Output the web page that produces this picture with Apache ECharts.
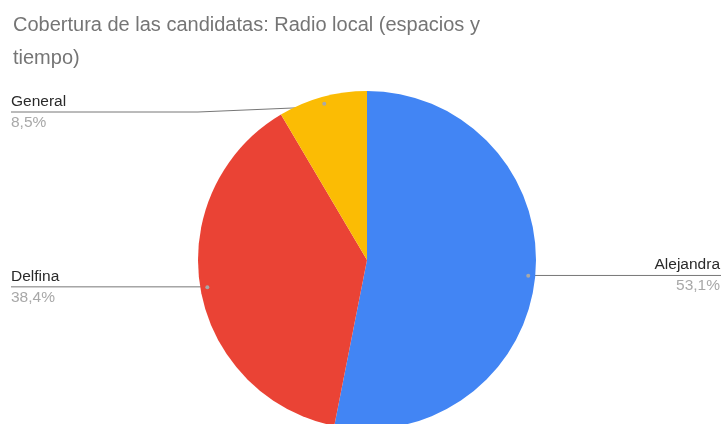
<!DOCTYPE html>
<html>
<head>
<meta charset="utf-8">
<style>
  html, body { margin: 0; padding: 0; background: #fff; }
  #chart { width: 721px; height: 424px; }
</style>
<script src="https://cdn.jsdelivr.net/npm/echarts@6/dist/echarts.min.js"></script>
</head>
<body>
<div id="chart"></div>
<script>
// Data
const titleText = 'Cobertura de las candidatas: Radio local (espacios y\ntiempo)';
const categories = ['Alejandra', 'Delfina', 'General'];
const values = [53.1, 38.4, 8.5];
const colors = ['#4285F4', '#EA4335', '#FBBC04'];

// Layout constants
const W = 721;
const CX = 367, CY = 260, R = 169;
const DOT_R = 159;       // radius where leader lines start
const LINE_TOP = 112;    // leader lines never rise above this
const FONT = 'Liberation Sans, Arial, sans-serif';

const chart = echarts.init(document.getElementById('chart'), null, { renderer: 'canvas' });

function fmtPct(p) {
  return p.toFixed(1).replace('.', ',') + '%';
}

const seriesData = categories.map((name, i) => ({
  name: name,
  value: values[i],
  itemStyle: { color: colors[i] }
}));

chart.setOption({
  animation: false,
  backgroundColor: '#ffffff',
  title: {
    text: titleText,
    left: 8,
    top: 4,
    textStyle: {
      fontFamily: FONT,
      fontSize: 20,
      fontWeight: 'normal',
      color: '#757575',
      lineHeight: 33
    }
  },
  series: [
    {
      type: 'pie',
      center: [CX, CY],
      radius: R,
      startAngle: 90,
      clockwise: true,
      data: seriesData,
      label: {
        show: true,
        position: 'outside',
        formatter: p => '{n|' + p.name + '}\n{p|' + fmtPct(p.percent) + '}',
        rich: {
          n: { fontFamily: FONT, fontSize: 15.5, color: '#2a2a2a', lineHeight: 21 },
          p: { fontFamily: FONT, fontSize: 15.5, color: '#a8a8a8', lineHeight: 21 }
        }
      },
      labelLine: {
        show: true,
        length: 10,
        length2: 10,
        lineStyle: { color: '#777777', width: 1 }
      },
      labelLayout: function (params) {
        const pts = params.labelLinePoints;
        if (!pts) return {};
        const dx = pts[0][0] - CX, dy = pts[0][1] - CY;
        const k = DOT_R / Math.hypot(dx, dy);
        const sx = CX + dx * k, sy = CY + dy * k;
        const ly = Math.max(sy, LINE_TOP);
        if (dx > 0) {
          return {
            x: W - 1, y: ly, align: 'right', verticalAlign: 'middle',
            labelLinePoints: [[sx, sy], [W, ly], [W, ly]]
          };
        }
        const bx = Math.min(sx, CX - R);
        return {
          x: 11, y: ly, align: 'left', verticalAlign: 'middle',
          labelLinePoints: [[sx, sy], [bx, ly], [11, ly]]
        };
      },
      emphasis: { disabled: true }
    },
    {
      // small dots where the leader lines begin
      type: 'pie',
      center: [CX, CY],
      radius: [DOT_R - 10, DOT_R + 10],
      startAngle: 90,
      clockwise: true,
      silent: true,
      z: 3,
      data: seriesData.map(d => ({ name: d.name, value: d.value })),
      itemStyle: { color: 'rgba(0,0,0,0)' },
      label: {
        show: true,
        position: 'inside',
        formatter: '{d|}',
        rich: { d: { width: 4, height: 4, borderRadius: 2, backgroundColor: '#a8a8a8' } }
      },
      labelLine: { show: false },
      emphasis: { disabled: true }
    }
  ]
});
</script>
</body>
</html>
